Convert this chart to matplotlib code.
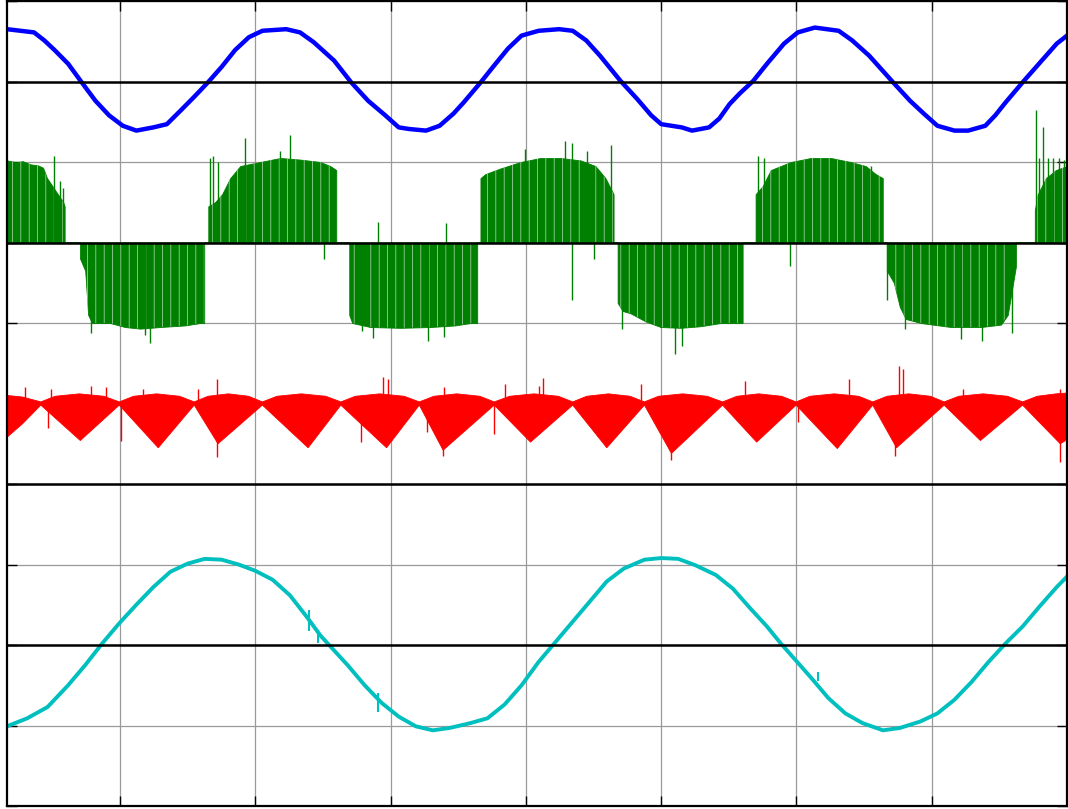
import numpy as np
import matplotlib
matplotlib.use("Agg")
import matplotlib.pyplot as plt

# Four-channel scope capture. Time in ms (5 ms/div), amplitudes in divisions
# measured from each channel's own reference level.

# channel 1 (blue): supply voltage
blue_t = [-4.18, -3.18, -2.80, -2.42, -1.92, -1.42, -0.91, -0.41, 0.10, 0.60,
          1.23, 1.73, 2.24, 2.74, 3.25, 3.75, 4.25, 4.76, 5.26, 6.14,
          6.65, 7.15, 7.91, 8.54, 9.17, 9.80, 10.30, 10.68, 11.31, 11.81,
          12.32, 12.70, 13.33, 13.83, 14.34, 14.84, 15.47, 16.23, 16.73, 17.23,
          17.74, 18.49, 19.12, 19.63, 20.00, 20.76, 21.14, 21.77, 22.15, 22.53,
          22.90, 23.41, 23.91, 24.54, 25.05, 25.68, 26.56, 27.06, 27.69, 28.57,
          29.20, 29.71, 30.21, 30.84, 31.35, 31.98, 32.35, 32.73, 33.36, 34.12,
          34.62, 35.00]
blue_v = [0.65, 0.61, 0.51, 0.39, 0.22, -0.01, -0.24, -0.42, -0.55, -0.61,
          -0.57, -0.53, -0.36, -0.19, -0.01, 0.18, 0.39, 0.55, 0.63, 0.65,
          0.61, 0.49, 0.26, -0.01, -0.24, -0.42, -0.57, -0.59, -0.61, -0.55,
          -0.40, -0.26, -0.01, 0.20, 0.41, 0.57, 0.63, 0.65, 0.63, 0.51,
          0.32, 0.01, -0.22, -0.42, -0.53, -0.57, -0.61, -0.57, -0.46, -0.28,
          -0.15, 0.01, 0.22, 0.47, 0.61, 0.67, 0.63, 0.51, 0.32, -0.01,
          -0.24, -0.40, -0.55, -0.61, -0.61, -0.55, -0.42, -0.26, -0.01, 0.28,
          0.47, 0.57]

# channel 2 (green): PWM output voltage, envelope of the switching pulses
green_t = [-4.18, -3.90, -3.60, -3.30, -3.05, -2.85, -2.70, -2.50, -2.30, -2.10, -2.05, -2.05,
           -1.48, -1.48, -1.29, -1.18, -1.04, -0.37, 0.18, 0.74, 1.48, 2.40, 2.96, 3.11, 3.11,
           3.26, 3.26, 3.51, 3.77, 4.07, 4.44, 5.18, 5.92, 6.66, 7.40, 7.77, 7.99, 7.99,
           8.47, 8.47, 8.58, 9.25, 10.36, 11.47, 12.39, 12.95, 13.20, 13.20,
           13.32, 13.32, 13.50, 14.06, 14.80, 15.54, 16.28, 17.02, 17.57, 17.94, 18.24, 18.24,
           18.39, 18.39, 18.57, 18.87, 19.42, 19.98, 20.72, 21.46, 22.20, 22.75, 23.01, 23.01,
           23.49, 23.49, 23.75, 24.05, 24.79, 25.53, 26.27, 27.00, 27.56, 27.93, 28.19, 28.19,
           28.34, 28.34, 28.60, 28.82, 29.04, 29.60, 30.71, 31.82, 32.56, 32.81, 33.11, 33.11,
           33.81, 33.81, 33.92, 34.22, 34.59, 35.00]
green_v = [1.02, 1.00, 1.01, 0.97, 0.96, 0.93, 0.80, 0.70, 0.60, 0.50, 0.45, 0.0,
           0.0, -0.20, -0.35, -0.90, -1.00, -1.00, -1.05, -1.07, -1.05, -1.03, -1.00, -1.00, 0.0,
           0.0, 0.45, 0.50, 0.60, 0.80, 0.95, 1.00, 1.05, 1.03, 1.00, 0.95, 0.90, 0.0,
           0.0, -0.90, -1.00, -1.05, -1.06, -1.05, -1.03, -1.00, -1.00, 0.0,
           0.0, 0.80, 0.85, 0.92, 1.00, 1.05, 1.05, 1.02, 0.95, 0.80, 0.60, 0.0,
           0.0, -0.75, -0.85, -0.88, -0.98, -1.05, -1.06, -1.04, -1.00, -1.00, -1.00, 0.0,
           0.0, 0.60, 0.70, 0.90, 1.00, 1.05, 1.05, 1.00, 0.95, 0.85, 0.80, 0.0,
           0.0, -0.35, -0.50, -0.80, -0.95, -1.00, -1.05, -1.05, -1.02, -0.90, -0.30, 0.0,
           0.0, 0.40, 0.60, 0.80, 0.90, 0.95]
# isolated pulses that stand out of the envelope
green_spike_t = [-2.44, -2.22, -2.11, -1.07, 0.92, 1.11, 3.33, 3.44, 3.63, 4.62,
                 5.92, 6.29, 7.54, 8.95, 9.36, 9.55, 11.39, 11.99, 12.06, 14.98,
                 16.43, 16.69, 16.72, 17.24, 17.50, 18.13, 18.57, 20.50, 20.76, 23.58,
                 23.80, 24.75, 27.74, 28.33, 29.00, 31.08, 31.85, 32.95, 33.08, 33.85,
                 33.96, 34.11, 34.30, 34.50, 34.70, 34.90]
green_spike_v = [1.08, 0.76, 0.68, -1.12, -1.15, -1.25, 1.05, 1.08, 1.00, 1.30,
                 1.14, 1.34, -0.20, -1.10, -1.19, 0.25, -1.22, -1.18, 0.24, 1.16,
                 1.26, 1.24, -0.72, 1.14, -0.21, 1.21, -1.08, -1.38, -1.28, 1.08,
                 1.05, -0.29, 0.95, -0.72, -1.07, -1.20, -1.22, -1.12, -0.25, 1.65,
                 1.05, 1.43, 1.05, 1.05, 1.05, 1.02]

# channel 3 (red): DC-link current, band limits of the ripple
red_hi_t = [-4.18, -3.60, -2.93, -2.40, -1.50, -0.60, -0.03, 0.50, 1.35, 2.20, 2.74,
            3.25, 4.00, 4.75, 5.26, 5.80, 6.70, 7.60, 8.16, 8.70, 9.60, 10.50, 11.06,
            11.60, 12.45, 13.30, 13.83, 14.40, 15.30, 16.20, 16.73, 17.25, 18.05, 18.85, 19.38,
            19.90, 20.80, 21.70, 22.27, 22.80, 23.60, 24.45, 24.99, 25.50, 26.40, 27.30, 27.82,
            28.35, 29.15, 29.95, 30.46, 31.00, 31.90, 32.80, 33.36, 33.90, 34.60, 35.00]
red_hi = [0.10, 0.08, 0.02, 0.09, 0.12, 0.09, 0.02, 0.09, 0.12, 0.09, 0.02,
          0.09, 0.12, 0.09, 0.02, 0.09, 0.12, 0.09, 0.02, 0.09, 0.12, 0.09, 0.02,
          0.09, 0.12, 0.09, 0.02, 0.09, 0.12, 0.09, 0.02, 0.09, 0.12, 0.09, 0.02,
          0.09, 0.12, 0.09, 0.02, 0.09, 0.12, 0.09, 0.02, 0.09, 0.12, 0.09, 0.02,
          0.09, 0.12, 0.09, 0.02, 0.09, 0.12, 0.09, 0.02, 0.09, 0.12, 0.13]
red_lo_t = [-4.18, -3.60, -2.93, -1.47, -0.03, 1.41, 2.74, 3.62, 5.26, 6.95, 8.16,
            9.85, 11.06, 11.94, 13.83, 15.17, 16.73, 17.99, 19.38, 20.38, 22.27,
            23.53, 24.99, 26.51, 27.82, 28.70, 30.46, 31.80, 33.36, 34.75, 35.00]
red_lo = [-0.42, -0.25, -0.02, -0.46, -0.02, -0.55, -0.02, -0.50, -0.02, -0.55, -0.02,
          -0.55, -0.02, -0.58, -0.02, -0.48, -0.02, -0.55, -0.02, -0.62, -0.02,
          -0.48, -0.02, -0.56, -0.02, -0.55, -0.02, -0.46, -0.02, -0.50, -0.45]
red_spike_t = [-3.51, -2.55, -1.09, -0.53, 0.85, 2.87, 3.57, 9.72, 9.92, 11.99,
               14.21, 15.47, 15.65, 19.25, 23.08, 26.94, 28.78, 28.95, 31.17, 34.75,
               -2.68, 0.05, 3.57, 8.92, 11.36, 11.94, 13.83, 20.38, 25.05, 28.65, 34.75]
red_spike_v = [0.20, 0.18, 0.22, 0.20, 0.18, 0.18, 0.31, 0.33, 0.31, 0.20,
               0.24, 0.22, 0.32, 0.24, 0.28, 0.31, 0.47, 0.43, 0.18, 0.18,
               -0.31, -0.47, -0.67, -0.48, -0.36, -0.65, -0.38, -0.70, -0.23, -0.65, -0.73]

# channel 4 (cyan): line current
cyan_t = [-4.18, -3.43, -2.68, -1.92, -1.29, -0.66, -0.03, 0.60, 1.23, 1.86,
          2.49, 3.12, 3.75, 4.38, 5.01, 5.64, 6.27, 6.90, 7.40, 7.78,
          8.41, 9.04, 9.67, 10.30, 10.93, 11.56, 12.19, 12.95, 13.58, 14.21,
          14.84, 15.47, 16.10, 16.73, 17.36, 17.99, 18.62, 19.38, 20.00, 20.63,
          21.27, 22.02, 22.65, 23.28, 23.91, 24.42, 24.92, 25.55, 26.18, 26.81,
          27.44, 28.20, 28.83, 29.58, 30.21, 30.84, 31.47, 32.10, 32.73, 33.36,
          33.99, 34.62, 35.00]
cyan_v = [-1.01, -0.91, -0.77, -0.50, -0.25, 0.02, 0.27, 0.50, 0.72, 0.91,
          1.01, 1.07, 1.06, 1.00, 0.92, 0.81, 0.62, 0.35, 0.12, -0.02,
          -0.25, -0.50, -0.72, -0.89, -1.01, -1.06, -1.03, -0.97, -0.91, -0.74,
          -0.50, -0.21, 0.04, 0.29, 0.54, 0.79, 0.95, 1.06, 1.08, 1.07,
          0.99, 0.87, 0.70, 0.46, 0.23, 0.02, -0.17, -0.41, -0.66, -0.85,
          -0.97, -1.06, -1.03, -0.95, -0.85, -0.68, -0.46, -0.21, 0.02, 0.23,
          0.48, 0.72, 0.85]
cyan_spike_t = [7.00, 7.33, 9.55, 25.80]
cyan_spike_lo = [0.17, 0.02, -0.83, -0.45]
cyan_spike_hi = [0.43, 0.19, -0.60, -0.33]

# vertical position of each channel on the 10-division screen
blue_pos, green_pos, red_pos, cyan_pos = 9, 7, 5, 2
ref_levels = [9, 7, 4, 2]

plt.rcParams['hatch.linewidth'] = 0.5

fig = plt.figure(figsize=(10.68, 8.09), dpi=100)
ax = fig.add_axes([7 / 1068, 3 / 809, 1060 / 1068, 805 / 809])

ax.set_xlim(-4.18, 35)
ax.set_ylim(0, 10)
ax.set_xticks(np.arange(0, 36, 5))
ax.set_yticks(np.arange(0, 11, 1))
ax.grid(True, color='#9a9a9a', linewidth=0.9, zorder=0)
ax.set_axisbelow(True)
ax.tick_params(direction='in', length=7, width=1, top=True, right=True,
               labelbottom=False, labelleft=False)
for s in ax.spines.values():
    s.set_linewidth(1.6)
    s.set_zorder(10)

# green PWM band: solid envelope, gaps between pulses as faint light stripes
gt = np.array(green_t)
gv = green_pos + np.array(green_v)
ax.fill_between(gt, green_pos, gv, color='#008000', linewidth=0.6, zorder=2)
ax.fill_between(gt, green_pos, gv, facecolor='none', edgecolor='#bcdcbc',
                hatch='||', linewidth=0, zorder=2.1)
ax.vlines(green_spike_t, green_pos, green_pos + np.array(green_spike_v),
          color='#008000', linewidth=1.0, zorder=2.2)

# red ripple band
poly_t = np.r_[red_hi_t, red_lo_t[::-1]]
poly_v = np.r_[red_hi, red_lo[::-1]] + red_pos
ax.fill(poly_t, poly_v, color='#ff0000', linewidth=0.6, zorder=2)
ax.vlines(red_spike_t, red_pos, red_pos + np.array(red_spike_v),
          color='#ff0000', linewidth=1.0, zorder=2)

ax.plot(blue_t, blue_pos + np.array(blue_v), color='#0000ff', linewidth=3.2,
        solid_joinstyle='round', zorder=3)
ax.plot(cyan_t, cyan_pos + np.array(cyan_v), color='#00bfbf', linewidth=2.8,
        solid_joinstyle='round', zorder=3)
ax.vlines(cyan_spike_t, cyan_pos + np.array(cyan_spike_lo), cyan_pos + np.array(cyan_spike_hi),
          color='#00bfbf', linewidth=1.5, zorder=3)

for lvl in ref_levels:
    ax.axhline(lvl, color='black', linewidth=1.8, zorder=5)

fig.savefig('out.png', dpi=100)
